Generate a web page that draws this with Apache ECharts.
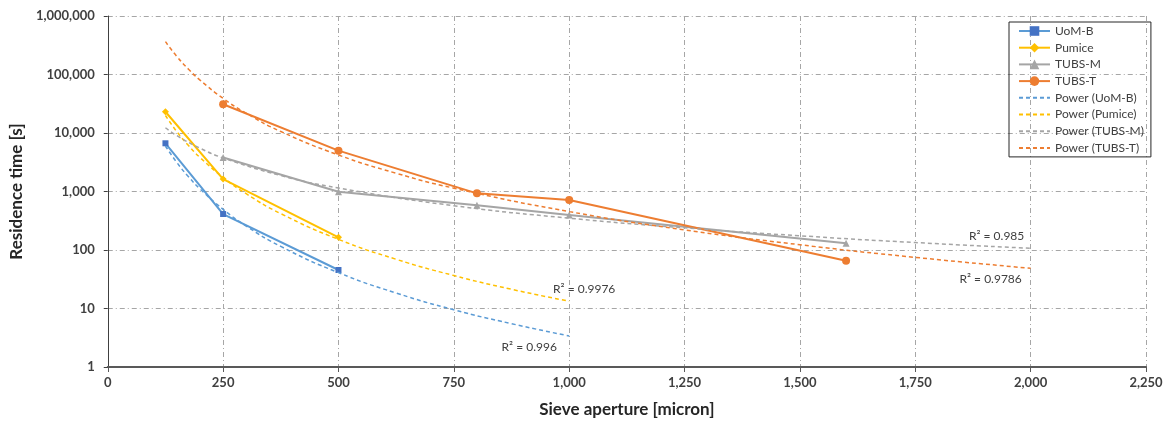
<!DOCTYPE html>
<html>
<head>
<meta charset="utf-8">
<script src="https://cdn.jsdelivr.net/npm/echarts@6/dist/echarts.min.js"></script>
<style>
html,body{margin:0;padding:0;background:#fff;}
#chart{width:1170px;height:423px;}
</style>
</head>
<body>
<div id="chart"></div>
<script>
// Measured data
const uomX = [125, 250, 500];
const uomY = [6670, 412, 45.5];
const pumiceX = [125, 250, 500];
const pumiceY = [23100, 1630, 165];
const tubsMX = [250, 500, 800, 1000, 1600];
const tubsMY = [3800, 993, 581, 396, 130];
const tubsTX = [250, 500, 800, 1000, 1600];
const tubsTY = [31000, 4990, 930, 716, 65.6];

// Trend lines
const trendUomX = [125, 150, 175, 200, 250, 300, 375, 500, 625, 750, 875, 1000];
const trendUomY = [6000, 3110, 1790, 1107, 495, 257, 115, 41, 18.4, 9.5, 5.5, 3.39];
const trendPumX = [125, 150, 175, 200, 250, 300, 375, 500, 625, 750, 875, 1000];
const trendPumY = [19900, 10470, 6100, 3810, 1740, 916, 418, 152, 69.4, 36.6, 21.3, 13.3];
const trendMX = [125, 150, 200, 250, 375, 500, 750, 1000, 1250, 1500, 1750, 2000];
const trendMY = [12300, 9000, 5500, 3755, 1876, 1147, 572, 350, 239, 175, 134, 107];
const trendTX = [125, 150, 175, 200, 250, 300, 375, 500, 625, 750, 1000, 1250, 1500, 1750, 2000];
const trendTY = [364000, 202000, 123000, 80200, 39100, 21800, 10600, 4210, 2050, 1141, 453, 221, 123, 74.8, 48.7];

const r2Labels = ['R² = 0.996', 'R² = 0.9976', 'R² = 0.985', 'R² = 0.9786'];
const xTicks = [0, 250, 500, 750, 1000, 1250, 1500, 1750, 2000, 2250];
const mainNames = ['UoM-B', 'Pumice', 'TUBS-M', 'TUBS-T'];
const trendNames = ['Power (UoM-B)', 'Power (Pumice)', 'Power (TUBS-M)', 'Power (TUBS-T)'];

const C_BLUE = '#5B9BD5', C_BLUE_M = '#4472C4', C_YEL = '#FFC000', C_GRAY = '#A5A5A5', C_OR = '#ED7D31';
const FONT = 'Lato, "Liberation Sans", sans-serif';

function pairs(xs, ys) { return xs.map((x, i) => [x, ys[i]]); }

function mainSeries(name, xs, ys, color, symbol, size, symColor) {
  return {
    name, type: 'line', data: pairs(xs, ys),
    symbol, symbolSize: size, showSymbol: true,
    lineStyle: { color, width: 2 },
    itemStyle: { color: symColor || color },
    z: 3, animation: false
  };
}

function trendSeries(name, xs, ys, color, label, offset) {
  const d = pairs(xs, ys);
  const last = d.length - 1;
  d[last] = {
    value: d[last], symbol: 'circle', symbolSize: 0,
    itemStyle: { color: 'transparent' },
    label: {
      show: true, formatter: label, position: 'inside', offset,
      color: '#404040', fontSize: 12, fontFamily: FONT
    }
  };
  return {
    name, type: 'line', data: d, smooth: true,
    symbol: 'none', showSymbol: true,
    lineStyle: { color, width: 1.5, type: [4, 3] },
    itemStyle: { color },
    z: 4, animation: false
  };
}

const fmt = v => Number(v).toLocaleString('en-US');
const gridLine = { show: true, lineStyle: { color: '#a6a6a6', width: 1, type: [5, 3, 1, 3] } };

const legendData = mainNames.map(n => ({ name: n })).concat(
  trendNames.map(n => ({ name: n, itemStyle: { opacity: 0 } }))
);

const chart = echarts.init(document.getElementById('chart'), null, { renderer: 'canvas' });
chart.setOption({
  backgroundColor: '#fff',
  animation: false,
  textStyle: { fontFamily: FONT },
  grid: { left: 105, right: 24, top: 16, bottom: 56, containLabel: false },
  legend: {
    orient: 'vertical', left: 1009, top: 22,
    borderColor: '#262626', borderWidth: 1, padding: [2, 7, 2, 9],
    itemWidth: 31, itemHeight: 12, itemGap: 2.7,
    textStyle: { fontSize: 12, color: '#404040', fontFamily: FONT, lineHeight: 14 },
    data: legendData
  },
  xAxis: {
    type: 'value', min: xTicks[0], max: xTicks[xTicks.length - 1], interval: xTicks[1] - xTicks[0],
    axisLine: { show: true, lineStyle: { color: '#595959', width: 2 } },
    axisTick: { show: true, length: 5, lineStyle: { color: '#595959' } },
    axisLabel: { fontSize: 13, fontWeight: 'bold', color: '#404040', margin: 9, formatter: fmt, fontFamily: FONT },
    splitLine: gridLine,
    name: 'Sieve aperture [micron]', nameLocation: 'middle', nameGap: 34,
    nameTextStyle: { fontSize: 17, fontWeight: 'bold', color: '#262626', fontFamily: FONT }
  },
  yAxis: {
    type: 'log', logBase: 10, min: 1, max: 1000000,
    axisLine: { show: true, lineStyle: { color: '#404040', width: 1 } },
    axisTick: { show: true, length: 4, lineStyle: { color: '#404040' } },
    axisLabel: { fontSize: 13, fontWeight: 'bold', color: '#404040', margin: 13, formatter: fmt, fontFamily: FONT },
    splitLine: gridLine,
    minorTick: { show: false },
    name: 'Residence time [s]', nameLocation: 'middle', nameGap: 76,
    nameTextStyle: { fontSize: 17, fontWeight: 'bold', color: '#262626', fontFamily: FONT }
  },
  series: [
    mainSeries(mainNames[0], uomX, uomY, C_BLUE, 'rect', 6, C_BLUE_M),
    mainSeries(mainNames[1], pumiceX, pumiceY, C_YEL, 'diamond', 7),
    mainSeries(mainNames[2], tubsMX, tubsMY, C_GRAY, 'triangle', 7),
    mainSeries(mainNames[3], tubsTX, tubsTY, C_OR, 'circle', 8),
    trendSeries(trendNames[0], trendUomX, trendUomY, C_BLUE, r2Labels[0], [-40, 11]),
    trendSeries(trendNames[1], trendPumX, trendPumY, C_YEL, r2Labels[1], [15, -12]),
    trendSeries(trendNames[2], trendMX, trendMY, C_GRAY, r2Labels[2], [-34, -12]),
    trendSeries(trendNames[3], trendTX, trendTY, C_OR, r2Labels[3], [-40, 11])
  ]
});
</script>
</body>
</html>
